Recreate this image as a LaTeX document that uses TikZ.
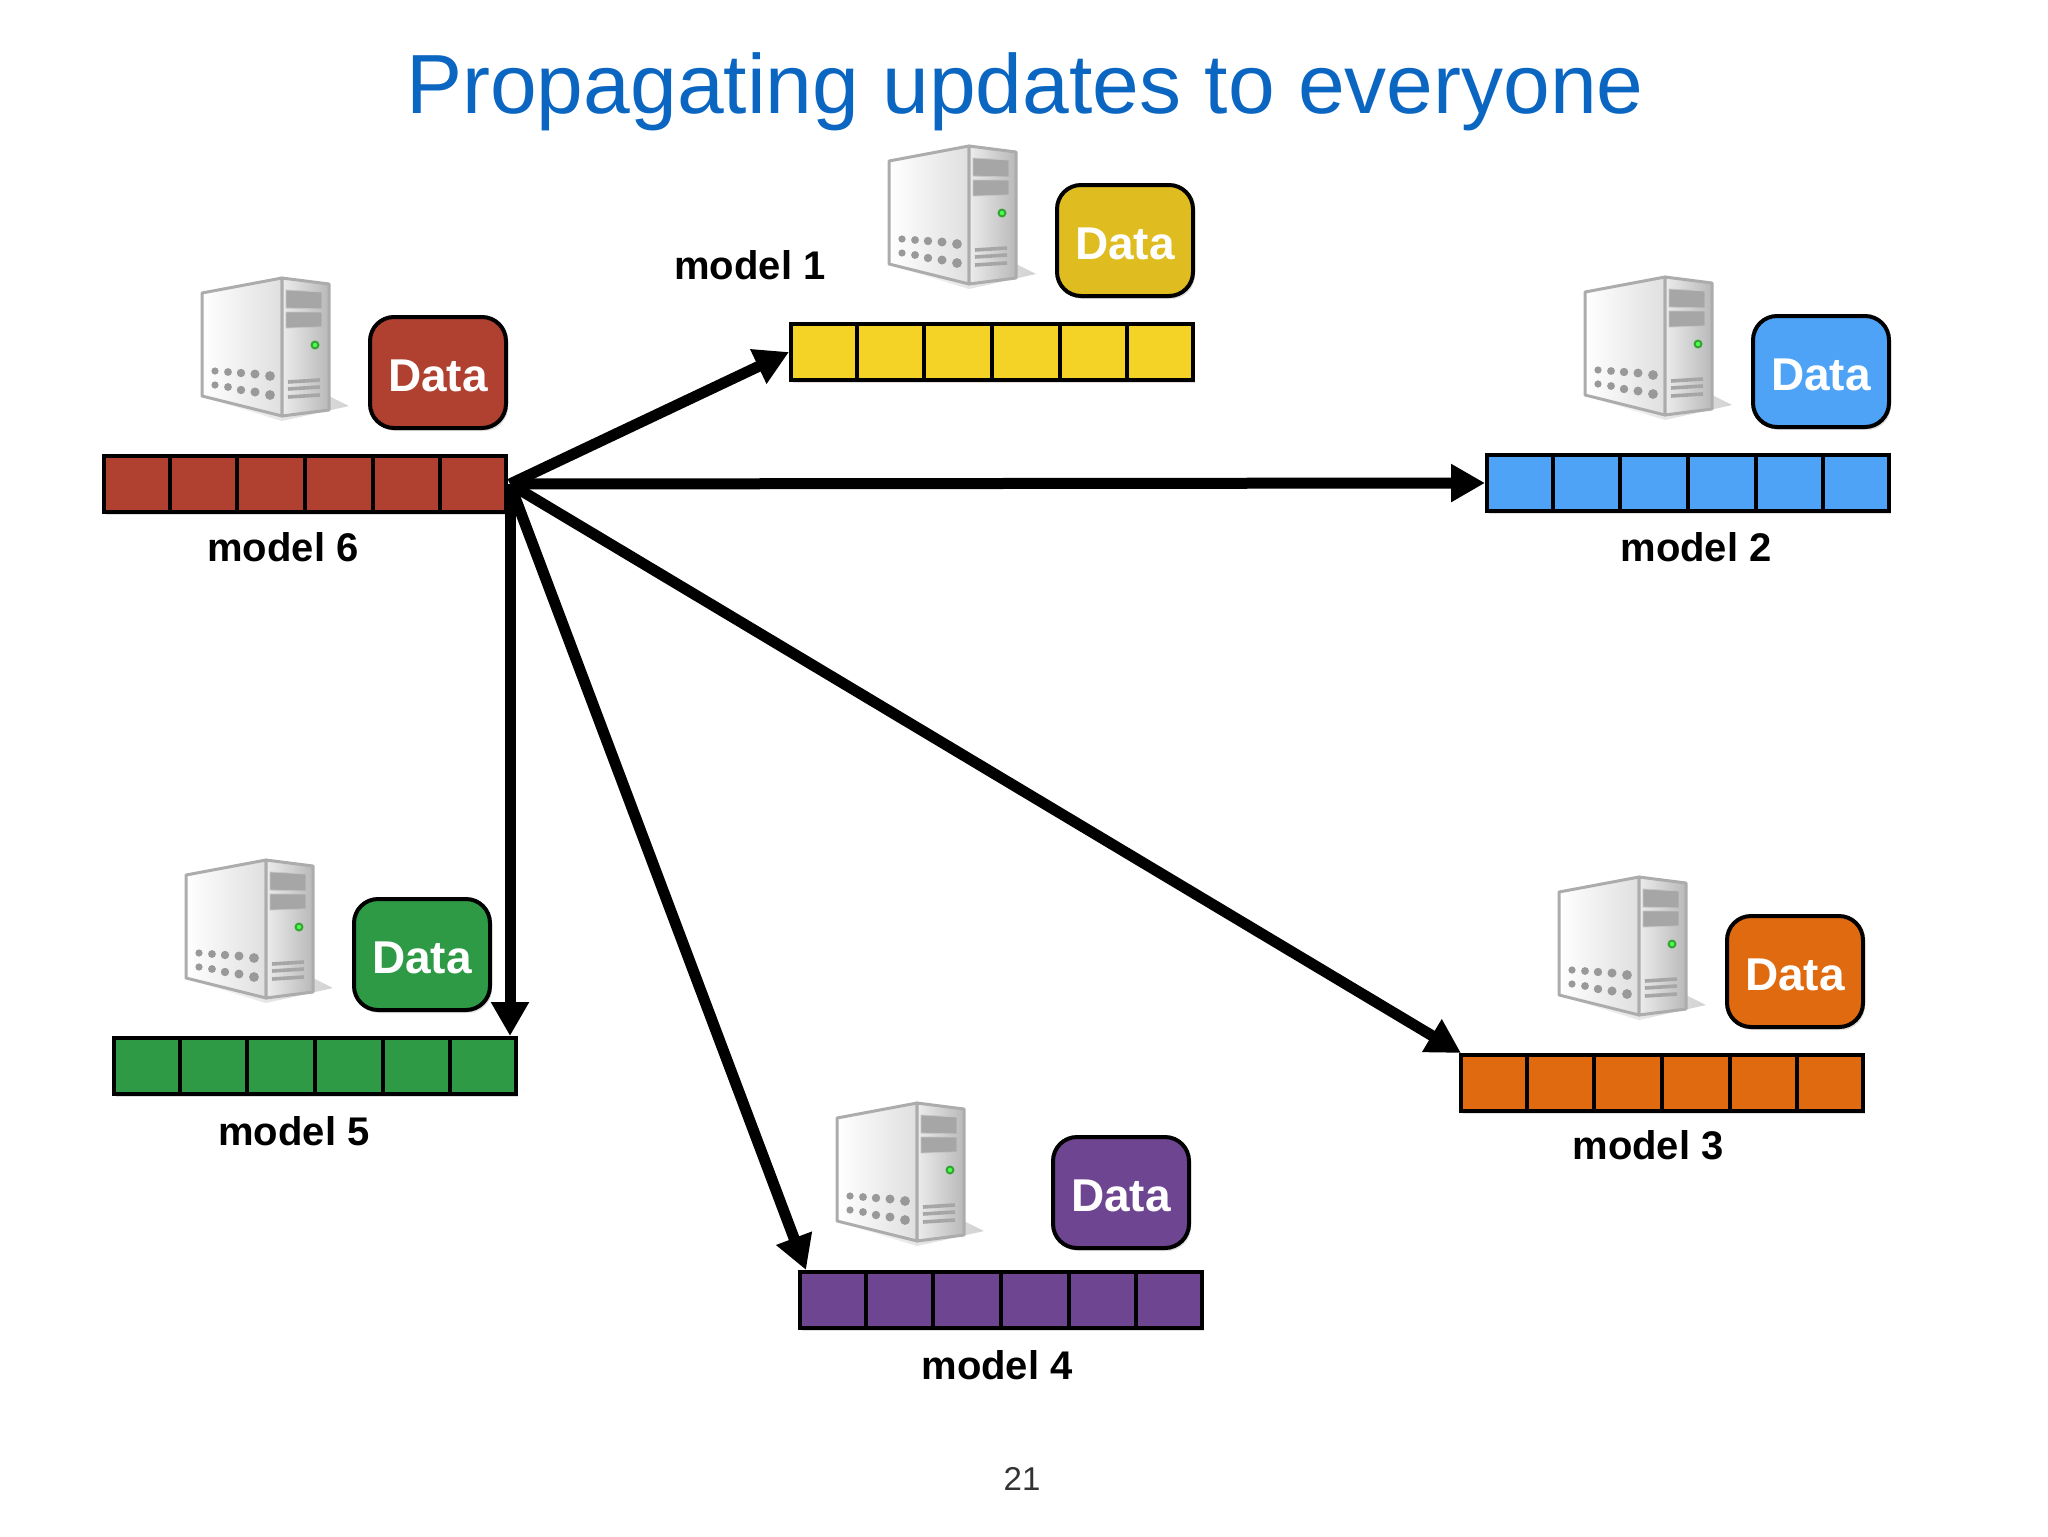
\documentclass[tikz,border=0pt]{standalone}
\usepackage{fontspec}
\setmainfont{Liberation Sans}
\usetikzlibrary{arrows.meta, positioning, shadows, calc}

\definecolor{titleblue}{HTML}{0B66C2}
\definecolor{redmodel}{HTML}{B04030}
\definecolor{yellowmodel}{HTML}{F5D226}
\definecolor{yellowdata}{HTML}{DFBC20}
\definecolor{bluemodel}{HTML}{4FA3F7}
\definecolor{orangemodel}{HTML}{E06A10}
\definecolor{greenmodel}{HTML}{2E9A45}
\definecolor{purplemodel}{HTML}{6E4590}

\begin{document}
\begin{tikzpicture}[
    x=0.5pt, y=-0.5pt,
    queue/.style={
        rectangle, draw=black, line width=2pt, anchor=north west,
        minimum width=201pt, minimum height=28pt, inner sep=0pt,
        drop shadow={shadow xshift=1pt, shadow yshift=-1.5pt, opacity=.25}
    },
    databox/.style={
        rectangle, draw=black, line width=2pt, rounded corners=12pt,
        minimum width=68pt, minimum height=55.5pt, inner sep=0pt,
        text=white, text height=19pt, font=\fontsize{23}{26}\selectfont\bfseries,
        drop shadow={shadow xshift=1pt, shadow yshift=-1.5pt, opacity=.25}
    },
    modellabel/.style={font=\fontsize{20}{22}\selectfont\bfseries, text=black, inner sep=0pt},
    arrow/.style={line width=5.5pt, -{Triangle[length=17pt,width=18pt]}, color=black},
    server/.pic={
        % shadow on the floor
        \shade[left color=gray!5, right color=gray!50, opacity=.7]
            (10,122) -- (80,143) -- (147,128) -- (127,118) -- cycle;
        % side and front of the case
        \shade[left color=white, right color=gray!25, draw=gray!65, line width=1.5pt, line join=round]
            (0,15) -- (80,0) -- (80,138) -- (0,118) -- cycle;
        \shade[left color=gray!15, right color=gray!55, draw=gray!65, line width=1.5pt, line join=round]
            (80,0) -- (127,6) -- (127,132) -- (80,138) -- cycle;
        % drive bays
        \fill[gray!70, draw=gray!45] (84,12) -- (120,14) -- (120,31) -- (84,30) -- cycle;
        \fill[gray!70, draw=gray!45] (84,34) -- (120,34) -- (120,49) -- (84,50) -- cycle;
        % power light
        \fill[green!55!black!80] (113,67) circle (4.5);
        \fill[green!70!white] (113,67) circle (2.2);
        % vent holes
        \foreach \hx/\hya/\hyb/\hr in {13/93/107/3.6, 26/94/109/3.9, 39/95/112/4.2, 53/96/114/4.5, 68/98/117/4.9} {
            \fill[gray!80] (\hx,\hya) circle (\hr);
            \fill[gray!80] (\hx,\hyb) circle (\hr);
        }
        % slots
        \foreach \sy in {103,110,118} {
            \draw[gray!70, line width=1.8pt] (86,\sy+1) -- (118,\sy-1);
        }
    }
]
    \useasboundingbox (0,0) rectangle (2048,1536);

    % Title and page number
    \node (title) [anchor=base, text=titleblue, font=\fontsize{42}{46}\selectfont, inner sep=0pt] at (1025,113) {Propagating updates to everyone};
    \node (pagenum) [font=\fontsize{16.5}{19}\selectfont, text=black!80, inner sep=0pt] at (1022,1479) {21};

    % Queues, servers and data boxes
    \foreach \qid/\qcol/\dcol/\qx/\qy/\sx/\sy/\bx/\by in {
        1/yellowmodel/yellowdata/789/322/50/88/0/12,
        2/bluemodel/bluemodel/1485/453/50/88/0/12,
        3/orangemodel/orangemodel/1459/1053/50/88/0/12,
        4/purplemodel/purplemodel/798/1270/19.5/83.5/6.5/10,
        5/greenmodel/greenmodel/112/1036/37/88/13/12,
        6/redmodel/redmodel/102/454/50/88/0/12} {
        \node (q\qid) [queue, fill=\qcol] at (\qx,\qy) {};
        \foreach \k in {1,...,5}
            \draw[black, line width=2pt] ($(q\qid.north west)!\k/6!(q\qid.north east)$) -- ($(q\qid.south west)!\k/6!(q\qid.south east)$);
        \node (d\qid) [databox, fill=\dcol, above left=\by pt and \bx pt of q\qid.north east] {Data};
        \pic at ([xshift=\sx pt,yshift=\sy pt]q\qid.north west) {server};
    }

    % Labels
    \node (lab1) [modellabel] at ([xshift=-19.5pt,yshift=28.5pt]q1.north west) {model 1};
    \node (lab2) [modellabel, below=9.5pt of q2, xshift=4pt] {model 2};
    \node (lab3) [modellabel, below=8.5pt of q3, xshift=-7pt] {model 3};
    \node (lab4) [modellabel, below=10pt of q4, xshift=-2pt] {model 4};
    \node (lab5) [modellabel, below=10pt of q5, xshift=-10.5pt] {model 5};
    \node (lab6) [modellabel, below=9pt of q6, xshift=-11pt] {model 6};

    % Connections
    \coordinate (hub) at ([xshift=1pt]q6.east);
    \draw [arrow] (hub) -- (q1.west);
    \draw [arrow] (hub) -- (q2.west);
    \draw [arrow] (hub) -- ([xshift=1pt]q3.north west);
    \draw [arrow] (hub) -- ([xshift=4pt]q4.north west);
    \draw [arrow] (hub) -- ([xshift=-4pt]q5.north east);
\end{tikzpicture}
\end{document}
